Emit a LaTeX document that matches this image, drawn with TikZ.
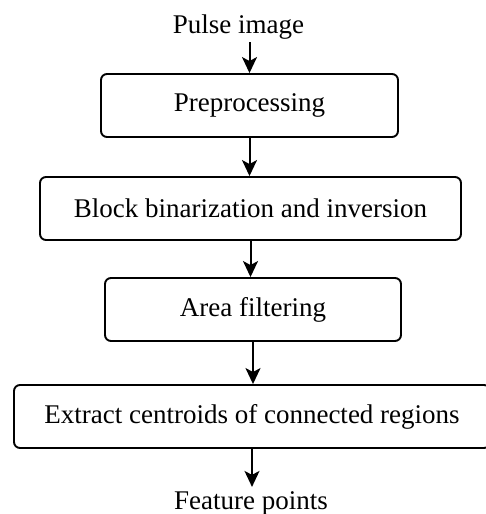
\documentclass[tikz,border=0pt]{standalone}
\usepackage{fontspec}
\setmainfont{Liberation Serif}
\usetikzlibrary{arrows.meta}
\begin{document}
\begin{tikzpicture}[x=1pt,y=-1pt,
  box/.style={draw, line width=1.9pt, rounded corners=6pt, minimum height=63pt, inner sep=0pt, font=\fontsize{27}{30}\selectfont},
  lbl/.style={inner sep=0pt, font=\fontsize{27}{30}\selectfont},
  arr/.style={line width=2pt, -{Stealth[length=16pt,width=15pt,inset=4pt]}}]
\useasboundingbox (0,0) rectangle (485,514);
\node[lbl, anchor=base] (pulse) at (238.5,33) {Pulse image};
\node[box, minimum width=297pt] (pre) at (249.5,105.5) {Preprocessing};
\node[box, minimum width=421pt] (blk) at (250.5,208.5) {Block binarization and inversion};
\node[box, minimum width=296pt] (area) at (253,309.5) {Area filtering};
\node[box, minimum width=476pt] (ext) at (252,416.5) {Extract centroids of connected regions};
\node[lbl, anchor=base, inner ysep=4pt] (feat) at (251,509) {Feature points};
\coordinate (ps) at ([yshift=-3pt]pulse.south);
\draw[arr] (ps -| pre.north) -- (pre.north);
\draw[arr] (pre.south) -- (pre.south |- blk.north);
\draw[arr] (blk.south) -- (blk.south |- area.north);
\draw[arr] (area.south) -- (area.south |- ext.north);
\draw[arr] (ext.south) -- (ext.south |- feat.north);
\end{tikzpicture}
\end{document}
